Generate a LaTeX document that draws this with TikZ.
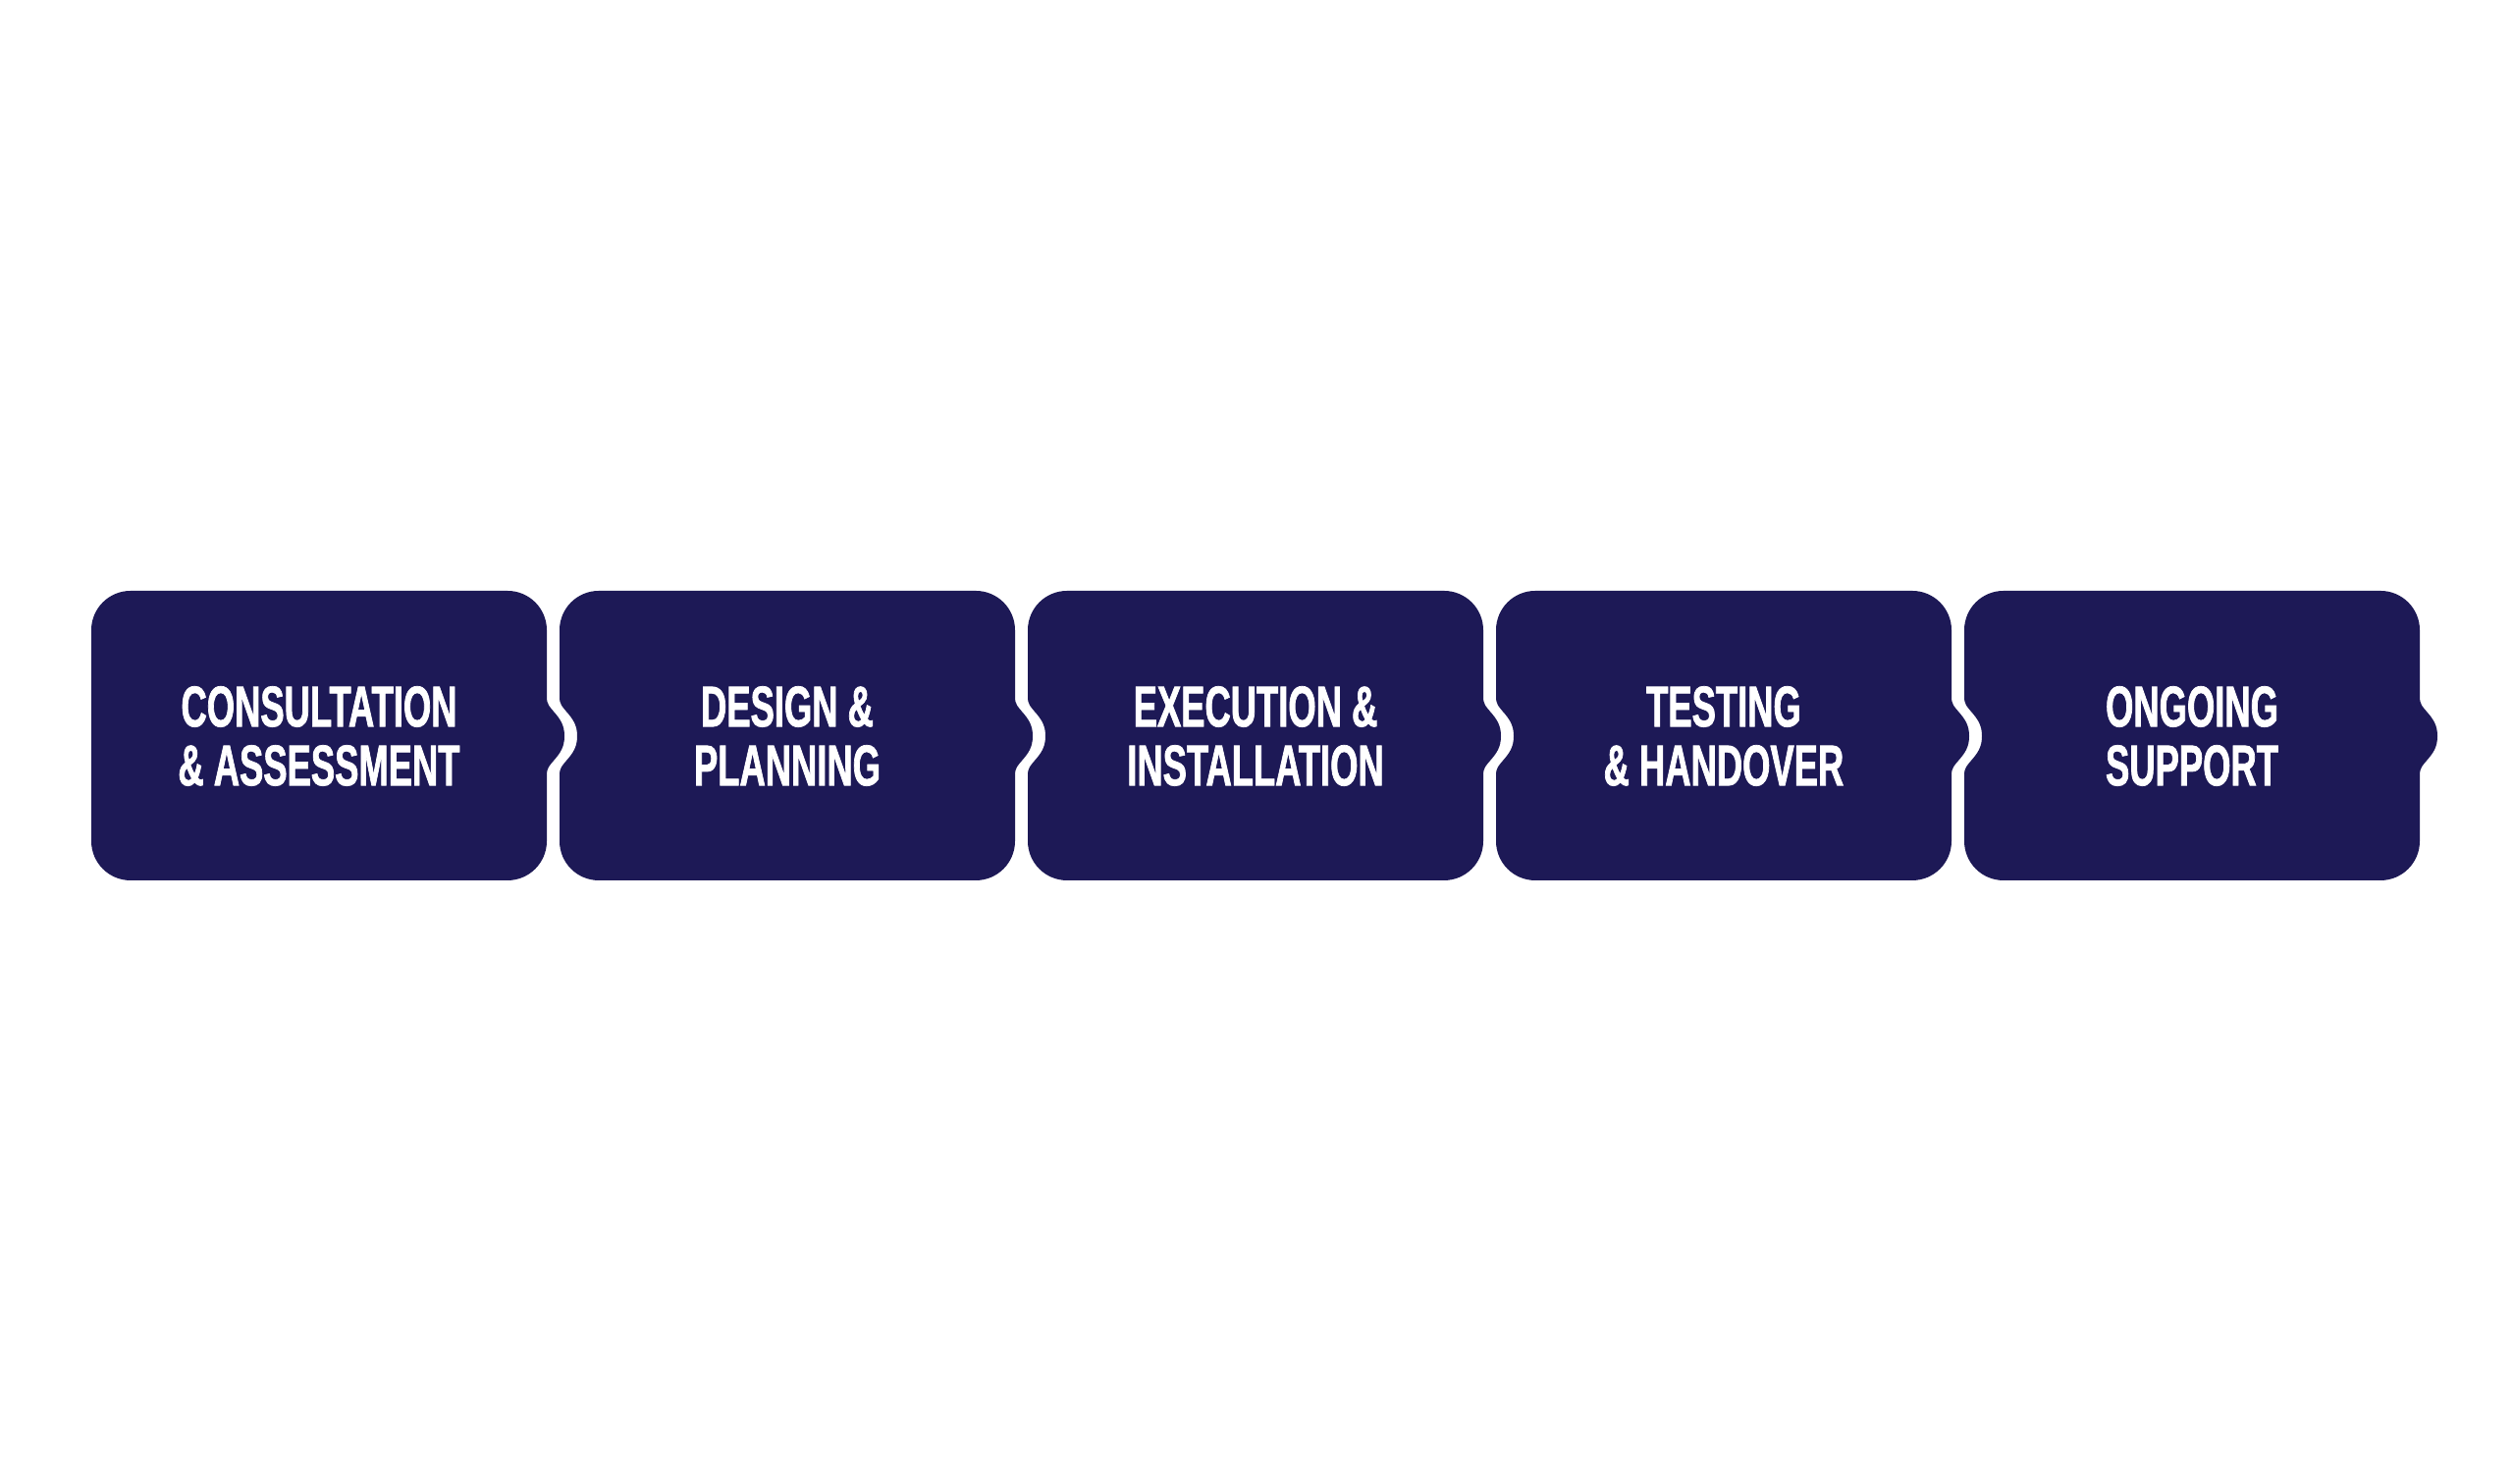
\documentclass[tikz,border=0pt]{standalone}
\usepackage{fontspec}
\newfontfamily\stepfont{Liberation Sans}[FakeStretch=0.62, FakeBold=1.2]
\usetikzlibrary{positioning}
\definecolor{stepnavy}{RGB}{29,25,86}

\begin{document}
\begin{tikzpicture}[x=0.1mm, y=0.1mm,
  stepbox/.style={fill=stepnavy},
  steptext/.style={text=white, align=center, inner sep=0pt,
    font=\stepfont\bfseries\fontsize{16.7}{17.07}\selectfont}]
  % Canvas
  \fill[white] (0,0) rectangle (2560,1512);

  % Steps, left to right
  \foreach \i/\lab in {0/{CONSULTATION\\\& ASSESSMENT}, 1/{DESIGN \&\\PLANNING},
      2/{EXECUTION \&\\INSTALLATION}, 3/{TESTING\\\& HANDOVER}, 4/{ONGOING\\SUPPORT}}{
    \pgfmathsetmacro\L{93+477*\i}
    \pgfmathsetmacro\R{\L+464}
    \pgfmathsetmacro\N{\i>0 ? 1 : 0}
    \fill[stepbox] (\L,802) -- (\L,870) arc[start angle=180, end angle=90, radius=4mm]
      -- (\R-40,910) arc[start angle=90, end angle=0, radius=4mm] -- (\R,802)
      .. controls (\R,794) and (\R+3,792) .. (\R+7,787)
      .. controls (\R+14,779) and (\R+18,773) .. (\R+18,762)
      .. controls (\R+18,751) and (\R+14,745) .. (\R+7,737)
      .. controls (\R+3,732) and (\R,730) .. (\R,722)
      -- (\R,655) arc[start angle=0, end angle=-90, radius=4mm]
      -- (\L+40,615) arc[start angle=-90, end angle=-180, radius=4mm] -- (\L,722)
      .. controls (\L,730) and (\L+3*\N,732) .. (\L+7*\N,737)
      .. controls (\L+14*\N,745) and (\L+18*\N,751) .. (\L+18*\N,762)
      .. controls (\L+18*\N,773) and (\L+14*\N,779) .. (\L+7*\N,787)
      .. controls (\L+3*\N,792) and (\L,794) .. (\L,802) -- cycle;
    \node[steptext] (step\i) at (\L+232,762) {\lab};
  }
\end{tikzpicture}
\end{document}
